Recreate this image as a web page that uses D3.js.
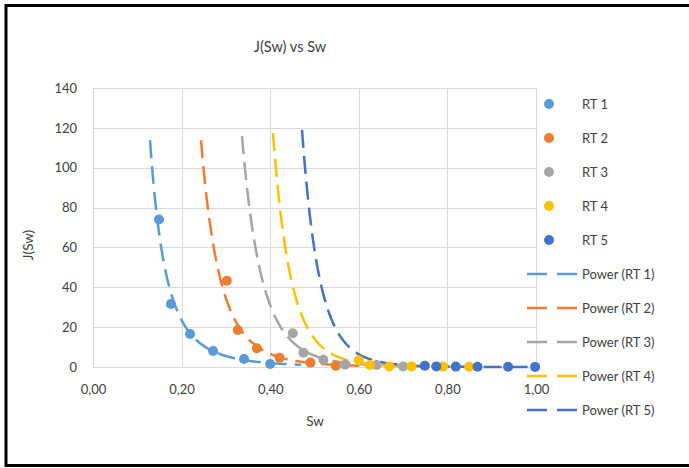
<!DOCTYPE html>
<html>
<head>
<meta charset="utf-8">
<script src="https://cdn.jsdelivr.net/npm/d3@7"></script>
<style>
  body { margin: 0; background: #fff; }
  text { font-family: Lato, "Open Sans", sans-serif; fill: #404040; }
</style>
</head>
<body>
<div id="chart"></div>
<script>
const width = 689;
const height = 468;

// data: [Sw, J(Sw)]
const seriesNames = ['RT 1', 'RT 2', 'RT 3', 'RT 4', 'RT 5'];
const seriesColors = ['#5B9BD5', '#ED7D31', '#A5A5A5', '#FFC000', '#4472C4'];

const rt1 = [[0.149, 74.0], [0.176, 31.6], [0.219, 16.6], [0.271, 8.0], [0.341, 4.0], [0.400, 1.5]];
const rt2 = [[0.302, 43.3], [0.327, 18.6], [0.370, 9.4], [0.421, 4.7], [0.491, 2.2], [0.548, 0.6]];
const rt3 = [[0.451, 16.9], [0.475, 7.2], [0.520, 3.6], [0.569, 1.2], [0.640, 1.0], [0.700, 0.3]];
const rt4 = [[0.600, 3.4], [0.625, 1.0], [0.669, 0.3], [0.719, 0.3], [0.790, 0.2], [0.849, 0.1]];
const rt5 = [[0.749, 0.6], [0.775, 0.3], [0.819, 0.2], [0.868, 0.1], [0.937, 0.1], [0.998, 0.05]];

// power trendlines  J = a * Sw^b  (coefficients)
const trendA = [0.0739, 0.0340, 0.0293, 0.01202, 0.01293];
const trendB = [-3.58, -5.75, -7.6, -10.2, -12.15];
const trendFrom = [0.1287, 0.2438, 0.3363, 0.4063, 0.4718];
const trendTo = [0.47, 0.60, 0.70, 0.85, 1.0];

const xTicks = [0, 0.2, 0.4, 0.6, 0.8, 1.0];
const yTicks = [0, 20, 40, 60, 80, 100, 120, 140];

const allSeries = [rt1, rt2, rt3, rt4, rt5];

const svg = d3.select('#chart')
    .append('svg')
    .attr('width', width)
    .attr('height', height);

svg.append('rect')
    .attr('x', 0).attr('y', 0)
    .attr('width', width).attr('height', height)
    .attr('fill', '#fff');

// frame
svg.append('rect')
    .attr('x', 6).attr('y', 5.5)
    .attr('width', 720).attr('height', 460)
    .attr('fill', 'none')
    .attr('stroke', '#000')
    .attr('stroke-width', 3);

const xScale = d3.scaleLinear().domain([0, 1]).range([93, 536]);
const yScale = d3.scaleLinear().domain([0, 140]).range([367, 88]);

// grid
svg.append('g')
    .selectAll('line')
    .data(yTicks)
    .join('line')
    .attr('x1', xScale(0)).attr('x2', xScale(1))
    .attr('y1', d => Math.round(yScale(d)) + 0.5)
    .attr('y2', d => Math.round(yScale(d)) + 0.5)
    .attr('stroke', '#d9d9d9')
    .attr('stroke-width', 1);

svg.append('g')
    .selectAll('line')
    .data(xTicks)
    .join('line')
    .attr('x1', d => Math.round(xScale(d)) + 0.5)
    .attr('x2', d => Math.round(xScale(d)) + 0.5)
    .attr('y1', yScale(0)).attr('y2', yScale(140))
    .attr('stroke', '#d9d9d9')
    .attr('stroke-width', 1);

// axes labels
const xAxis = svg.append('g')
    .attr('transform', `translate(0, ${yScale(0)})`)
    .call(d3.axisBottom(xScale).tickValues(xTicks).tickSize(0).tickPadding(18)
        .tickFormat(d => d3.format('.2f')(d).replace('.', ',')));
xAxis.select('.domain').remove();
xAxis.selectAll('text').style('font-size', '13px').attr('fill', '#404040')
    .style('font-family', 'Lato, sans-serif');

const yAxis = svg.append('g')
    .attr('transform', `translate(${xScale(0)}, 0)`)
    .call(d3.axisLeft(yScale).tickValues(yTicks).tickSize(0).tickPadding(16));
yAxis.select('.domain').remove();
yAxis.selectAll('text').style('font-size', '13px').attr('fill', '#404040')
    .style('font-family', 'Lato, sans-serif');

svg.append('text')
    .attr('x', 290).attr('y', 52)
    .attr('text-anchor', 'middle')
    .style('font-size', '14.5px')
    .text('J(Sw) vs Sw');

svg.append('text')
    .attr('transform', 'translate(33, 245) rotate(-90)')
    .attr('text-anchor', 'middle')
    .style('font-size', '13.5px')
    .text('J(Sw)');

svg.append('text')
    .attr('x', 315).attr('y', 426)
    .attr('text-anchor', 'middle')
    .style('font-size', '13.5px')
    .text('Sw');

// trendlines
const line = d3.line()
    .x(d => xScale(d[0]))
    .y(d => yScale(d[1]));

const plot = svg.append('g');

trendA.forEach((a, i) => {
    const b = trendB[i];
    const pts = d3.range(0, 201).map(k => {
        const x = trendFrom[i] + (trendTo[i] - trendFrom[i]) * k / 200;
        return [x, a * Math.pow(x, b)];
    });
    plot.append('path')
        .attr('d', line(pts))
        .attr('fill', 'none')
        .attr('stroke', seriesColors[i])
        .attr('stroke-width', 2.5)
        .attr('stroke-dasharray', '18,8');
});

// series markers
allSeries.forEach((s, i) => {
    plot.append('g')
        .selectAll('circle')
        .data(s)
        .join('circle')
        .attr('cx', d => xScale(d[0]))
        .attr('cy', d => yScale(d[1]))
        .attr('r', 5)
        .attr('fill', seriesColors[i]);
});

// legend
const legendY = 104, legendStep = 34;
seriesNames.forEach((name, i) => {
    const y = legendY + i * legendStep;
    svg.append('circle')
        .attr('cx', 549).attr('cy', y).attr('r', 5)
        .attr('fill', seriesColors[i]);
    svg.append('text')
        .attr('x', 582).attr('y', y + 5)
        .style('font-size', '13px')
        .text(name);
});
seriesNames.forEach((name, i) => {
    const y = legendY + (i + 5) * legendStep;
    svg.append('line')
        .attr('x1', 527).attr('x2', 577)
        .attr('y1', y).attr('y2', y)
        .attr('stroke', seriesColors[i])
        .attr('stroke-width', 2.5)
        .attr('stroke-dasharray', '20,10');
    svg.append('text')
        .attr('x', 582).attr('y', y + 5)
        .style('font-size', '13px')
        .text(`Power (${name})`);
});
</script>
</body>
</html>
